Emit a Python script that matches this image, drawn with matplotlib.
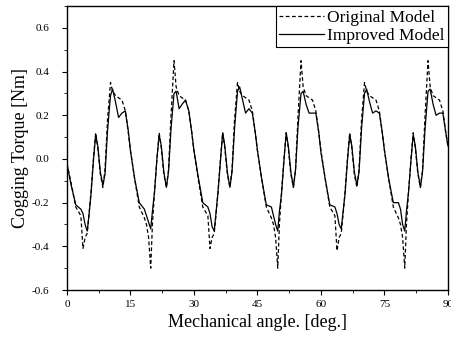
import matplotlib
matplotlib.use("Agg")
import matplotlib.pyplot as plt
from matplotlib.ticker import MultipleLocator

# === Datos ===
angulos = [
    0, 1.0, 2.1, 3.3, 3.8, 4.3, 4.8, 5.2, 5.7, 6.3, 6.8, 7.3, 7.9, 8.5, 9.0, 9.6, 10.3, 10.8, 11.5, 12.2, 13.0, 13.8, 14.5,
    15, 16.0, 17.1, 18.3, 18.8, 19.3, 19.8, 20.2, 20.7, 21.3, 21.8, 22.3, 22.9, 23.5, 24.0, 24.6, 25.3, 25.8, 26.5, 27.2, 28.0, 28.8, 29.5,
    30, 31.0, 32.1, 33.3, 33.8, 34.3, 34.8, 35.2, 35.7, 36.3, 36.8, 37.3, 37.9, 38.5, 39.0, 39.6, 40.3, 40.8, 41.5, 42.2, 43.0, 43.8, 44.5,
    45, 46.0, 47.1, 48.3, 48.8, 49.3, 49.8, 50.2, 50.7, 51.3, 51.8, 52.3, 52.9, 53.5, 54.0, 54.6, 55.3, 55.8, 56.5, 57.2, 58.0, 58.8, 59.5,
    60, 61.0, 62.1, 63.3, 63.8, 64.3, 64.8, 65.2, 65.7, 66.3, 66.8, 67.3, 67.9, 68.5, 69.0, 69.6, 70.3, 70.8, 71.5, 72.2, 73.0, 73.8, 74.5,
    75, 76.0, 77.1, 78.3, 78.8, 79.3, 79.8, 80.2, 80.7, 81.3, 81.8, 82.3, 82.9, 83.5, 84.0, 84.6, 85.3, 85.8, 86.5, 87.2, 88.0, 88.8, 89.5, 90,
]

par_original = [
    -0.02, -0.11, -0.22, -0.26, -0.41, -0.36, -0.34, -0.26, -0.15, 0.01, 0.12, 0.05, -0.07, -0.13, -0.05, 0.18, 0.35, 0.31, 0.29, 0.28, 0.27, 0.22, 0.12,
    0.04, -0.09, -0.22, -0.27, -0.30, -0.36, -0.50, -0.30, -0.15, 0.01, 0.12, 0.05, -0.07, -0.13, -0.05, 0.20, 0.45, 0.33, 0.29, 0.28, 0.27, 0.22, 0.12,
    0.04, -0.09, -0.22, -0.26, -0.41, -0.36, -0.34, -0.26, -0.15, 0.01, 0.12, 0.05, -0.07, -0.13, -0.05, 0.18, 0.35, 0.31, 0.29, 0.28, 0.27, 0.22, 0.12,
    0.04, -0.09, -0.22, -0.27, -0.30, -0.36, -0.50, -0.30, -0.15, 0.01, 0.12, 0.05, -0.07, -0.13, -0.05, 0.20, 0.45, 0.33, 0.29, 0.28, 0.27, 0.22, 0.12,
    0.04, -0.09, -0.22, -0.26, -0.42, -0.36, -0.34, -0.26, -0.15, 0.01, 0.12, 0.05, -0.07, -0.13, -0.05, 0.18, 0.35, 0.31, 0.29, 0.28, 0.27, 0.22, 0.12,
    0.04, -0.09, -0.22, -0.27, -0.30, -0.36, -0.50, -0.30, -0.15, 0.01, 0.12, 0.05, -0.07, -0.13, -0.05, 0.20, 0.45, 0.33, 0.29, 0.28, 0.27, 0.22, 0.12, 0.06,
]

par_mejorado = [
    -0.02, -0.12, -0.21, -0.23, -0.25, -0.30, -0.33, -0.26, -0.16, 0.00, 0.11, 0.06, -0.06, -0.12, -0.07, 0.13, 0.29, 0.32, 0.26, 0.19, 0.21, 0.22, 0.13,
    0.04, -0.09, -0.20, -0.23, -0.26, -0.29, -0.32, -0.24, -0.15, 0.01, 0.11, 0.06, -0.06, -0.13, -0.06, 0.14, 0.30, 0.31, 0.23, 0.25, 0.27, 0.22, 0.12,
    0.04, -0.08, -0.20, -0.22, -0.25, -0.31, -0.33, -0.25, -0.15, 0.00, 0.12, 0.06, -0.06, -0.13, -0.06, 0.14, 0.31, 0.33, 0.27, 0.21, 0.23, 0.21, 0.12,
    0.04, -0.09, -0.21, -0.22, -0.26, -0.30, -0.33, -0.24, -0.16, 0.00, 0.12, 0.06, -0.06, -0.13, -0.05, 0.15, 0.30, 0.31, 0.25, 0.21, 0.21, 0.21, 0.12,
    0.03, -0.09, -0.21, -0.22, -0.25, -0.30, -0.32, -0.25, -0.16, 0.00, 0.11, 0.06, -0.06, -0.12, -0.06, 0.14, 0.30, 0.32, 0.26, 0.21, 0.22, 0.21, 0.12,
    0.04, -0.09, -0.20, -0.20, -0.23, -0.30, -0.33, -0.24, -0.15, 0.00, 0.11, 0.06, -0.06, -0.13, -0.06, 0.14, 0.31, 0.32, 0.25, 0.20, 0.21, 0.21, 0.12, 0.06,
]

ticks_x = [0, 15, 30, 45, 60, 75, 90]
ticks_y = [-0.6, -0.4, -0.2, 0.0, 0.2, 0.4, 0.6]

# === Estilo ===
plt.rcParams['font.family'] = ['Liberation Serif', 'DejaVu Serif']
plt.rcParams['axes.unicode_minus'] = False

fig = plt.figure(figsize=(4.52, 3.38), dpi=100)
ax = fig.add_axes([0.148, 0.142, 0.843, 0.840])

ax.plot(angulos, par_original, color='black', linestyle=(0, (3, 2)), linewidth=0.9, label="Original Model")
ax.plot(angulos, par_mejorado, color='black', linestyle='-', linewidth=0.9, label="Improved Model")

ax.set_xlim(0, 90)
ax.set_ylim(-0.6, 0.7)
ax.set_xticks(ticks_x)
ax.set_yticks(ticks_y)
ax.set_yticklabels([f"{v:.1f}" for v in ticks_y])
ax.xaxis.set_minor_locator(MultipleLocator(7.5))
ax.yaxis.set_minor_locator(MultipleLocator(0.1))
ax.tick_params(which='major', direction='out', length=3.5, width=0.8, labelsize=8, pad=4)
ax.tick_params(which='minor', direction='out', length=2, width=0.6)
ax.tick_params(axis='y', pad=9)

for s in ax.spines.values():
    s.set_linewidth(1.0)

ax.set_xlabel("Mechanical angle. [deg.]", fontsize=13, labelpad=3)
ax.set_ylabel("Cogging Torque [Nm]", fontsize=13, labelpad=2)

leg = ax.legend(loc='upper right', fontsize=12.5, frameon=True, fancybox=False,
                edgecolor='black', framealpha=1, borderaxespad=0, borderpad=0.2,
                labelspacing=0.1, handlelength=2.6, handletextpad=0.15)
leg.get_frame().set_linewidth(0.8)

fig.savefig("out.png", dpi=100)
plt.close(fig)
